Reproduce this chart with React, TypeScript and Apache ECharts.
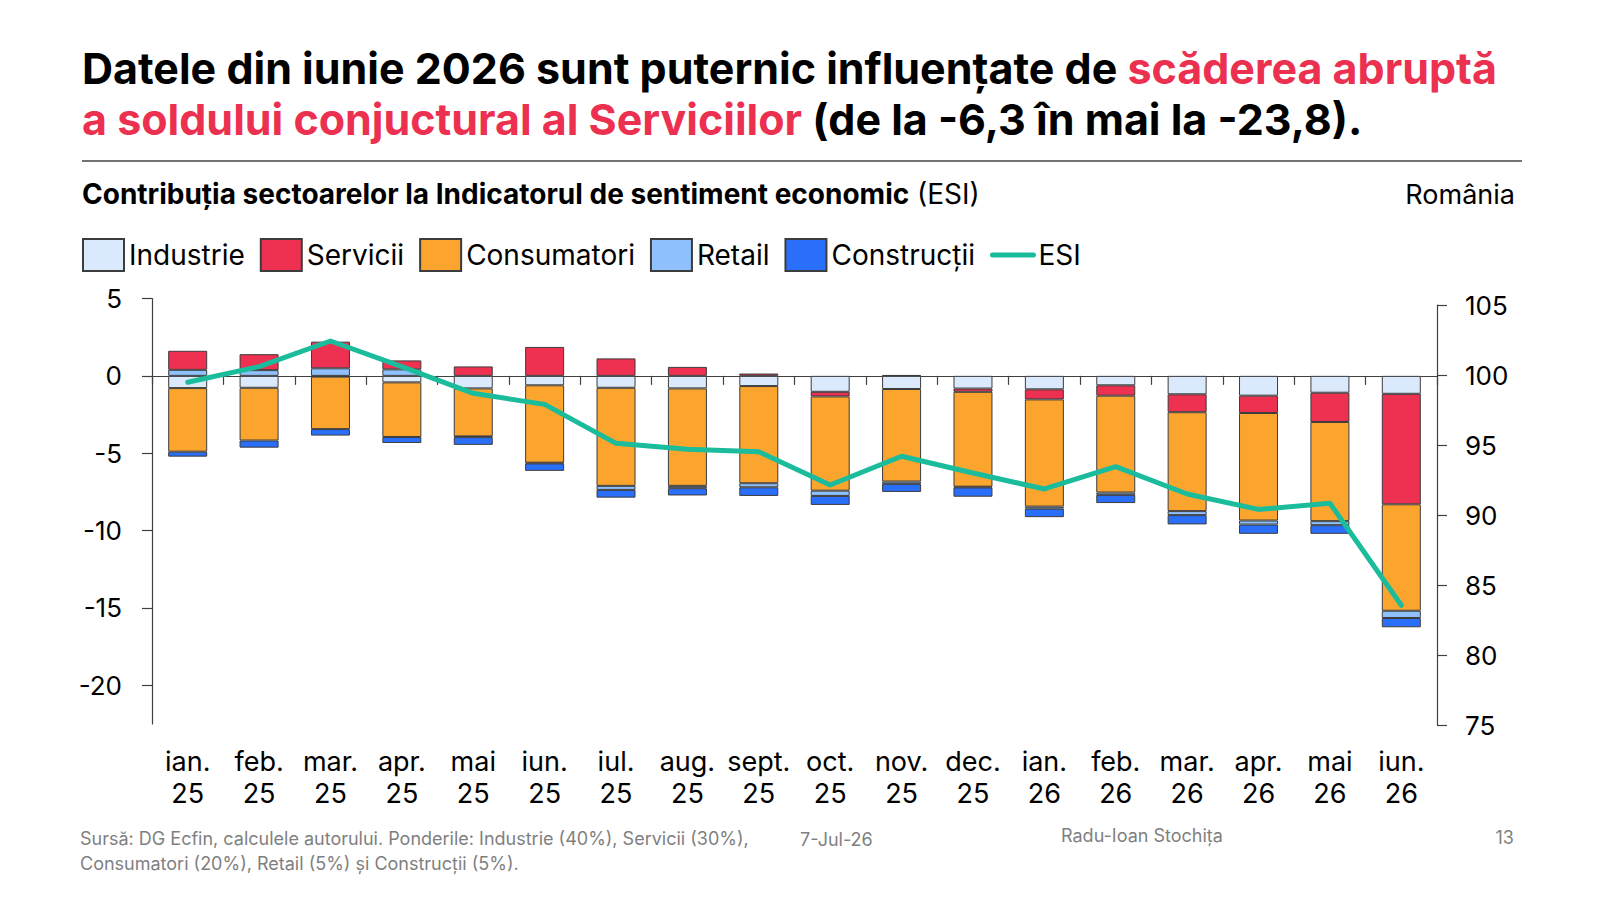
import * as echarts from "echarts";
import { useEffect, useRef } from "react";

const FONT = "Inter";

const months = [
  "ian.\n25", "feb.\n25", "mar.\n25", "apr.\n25", "mai\n25", "iun.\n25",
  "iul.\n25", "aug.\n25", "sept.\n25", "oct.\n25", "nov.\n25", "dec.\n25",
  "ian.\n26", "feb.\n26", "mar.\n26", "apr.\n26", "mai\n26", "iun.\n26",
];

// contributii (puncte)
const industrie = [-0.79, -0.77, -0.05, -0.42, -0.81, -0.61, -0.77, -0.81, -0.66, -1.03, -0.85, -0.82, -0.87, -0.61, -1.19, -1.28, -1.09, -1.16];
const servicii = [1.23, 1.03, 1.72, 0.58, 0.61, 1.87, 1.13, 0.58, 0.15, -0.3, 0.05, -0.21, -0.65, -0.67, -1.16, -1.12, -1.89, -7.14];
const consumatori = [-4.11, -3.41, -3.39, -3.53, -3.1, -5.0, -6.34, -6.3, -6.28, -6.09, -5.98, -6.13, -6.93, -6.26, -6.39, -6.95, -6.41, -6.88];
const retail = [0.39, 0.37, 0.49, 0.42, -0.05, -0.05, -0.26, -0.15, -0.26, -0.34, -0.15, -0.05, -0.13, -0.15, -0.26, -0.26, -0.26, -0.47];
const constructii = [-0.32, -0.46, -0.42, -0.39, -0.5, -0.48, -0.5, -0.47, -0.56, -0.58, -0.52, -0.6, -0.55, -0.53, -0.6, -0.6, -0.56, -0.6];
const esi = [99.48, 100.6, 102.43, 100.6, 98.69, 97.9, 95.12, 94.7, 94.52, 92.14, 94.2, 93.0, 91.86, 93.45, 91.5, 90.4, 90.84, 83.55];

const leftTicks = [5, 0, -5, -10, -15, -20];
const rightTicks = [105, 100, 95, 90, 85, 80, 75];

const RED = "#EC3050";
const BORDER = "#3c3c3c";
const TEAL = "#1ABC9C";

const barSeries = (name: string, data: (number | string)[], color: string) => ({
  name,
  type: "bar",
  stack: "total",
  xAxisIndex: 0,
  yAxisIndex: 0,
  barWidth: 39,
  data,
  itemStyle: { color, borderColor: BORDER, borderWidth: 1 },
});

export default function App() {
  const chartRef = useRef<HTMLDivElement>(null);

  useEffect(() => {
    if (!chartRef.current) return;
    const chart = echarts.init(chartRef.current, undefined, { renderer: "svg" });

    const axisText = { fontFamily: FONT, fontSize: 26, color: "#000" };
    const titleRich = {
      k: { fill: "#000", fontSize: 43, fontWeight: "bold", fontFamily: FONT },
      r: { fill: RED, fontSize: 43, fontWeight: "bold", fontFamily: FONT },
    };

    chart.setOption({
      animation: false,
      backgroundColor: "#fff",
      textStyle: { fontFamily: FONT, color: "#000" },
      graphic: [
        {
          type: "text",
          x: 82,
          y: 68,
          style: {
            text: "{k|Datele din iunie 2026 sunt puternic influențate de }{r|scăderea abruptă}",
            verticalAlign: "middle",
            rich: titleRich,
          },
        },
        {
          type: "text",
          x: 82,
          y: 119,
          style: {
            text: "{r|a soldului conjuctural al Serviciilor}{k| (de la -6,3 în mai la -23,8).}",
            verticalAlign: "middle",
            rich: titleRich,
          },
        },
        {
          type: "line",
          shape: { x1: 82, y1: 161, x2: 1522, y2: 161 },
          style: { stroke: "#444", lineWidth: 1.5 },
        },
        {
          type: "text",
          x: 82,
          y: 194,
          style: {
            text: "{b|Contribuția sectoarelor la Indicatorul de sentiment economic}{n| (ESI)}",
            verticalAlign: "middle",
            rich: {
              b: { fill: "#000", fontSize: 28, fontWeight: "bold", fontFamily: FONT },
              n: { fill: "#000", fontSize: 28, fontFamily: FONT },
            },
          },
        },
        {
          type: "text",
          x: 1515,
          y: 194,
          style: { text: "România", fill: "#000", fontSize: 27, fontFamily: FONT, align: "right", verticalAlign: "middle" },
        },
        {
          type: "text",
          x: 80,
          y: 851,
          style: {
            text: "Sursă: DG Ecfin, calculele autorului. Ponderile: Industrie (40%), Servicii (30%),\nConsumatori (20%), Retail (5%) și Construcții (5%).",
            fill: "#7f7f7f",
            fontSize: 18,
            lineHeight: 25,
            fontFamily: FONT,
            verticalAlign: "middle",
          },
        },
        {
          type: "text",
          x: 800,
          y: 839,
          style: { text: "7-Jul-26", fill: "#7f7f7f", fontSize: 18, fontFamily: FONT, verticalAlign: "middle" },
        },
        {
          type: "text",
          x: 1061,
          y: 835,
          style: { text: "Radu-Ioan Stochița", fill: "#7f7f7f", fontSize: 18, fontFamily: FONT, verticalAlign: "middle" },
        },
        {
          type: "text",
          x: 1514,
          y: 837,
          style: { text: "13", fill: "#7f7f7f", fontSize: 18, fontFamily: FONT, align: "right", verticalAlign: "middle" },
        },
      ],
      legend: {
        left: 82,
        top: 238,
        padding: 0,
        itemWidth: 41,
        itemHeight: 32,
        itemGap: 15,
        data: [
          { name: "Industrie", icon: "rect" },
          { name: "Servicii", icon: "rect" },
          { name: "Consumatori", icon: "rect" },
          { name: "Retail", icon: "rect" },
          { name: "Construcții", icon: "rect" },
          { name: "ESI", itemStyle: { opacity: 0 }, lineStyle: { width: 5, color: TEAL, cap: "round" } },
        ],
        textStyle: { fontFamily: FONT, fontSize: 28, color: "#000" },
      },
      grid: [
        { left: 152, right: 163, top: 298.5, bottom: 176 },
        { left: 152, right: 163, top: 305, bottom: 175 },
      ],
      xAxis: [
        {
          type: "category",
          gridIndex: 0,
          data: months,
          axisLine: { onZero: true, onZeroAxisIndex: 0, lineStyle: { color: "#404040", width: 1.2 } },
          axisTick: { show: true, length: 9, lineStyle: { color: "#404040", width: 1.2 } },
          axisLabel: { show: false },
        },
        {
          type: "category",
          gridIndex: 0,
          position: "bottom",
          data: months,
          axisLine: { show: false, onZero: false },
          axisTick: { show: false },
          axisLabel: { ...axisText, fontSize: 27, interval: 0, lineHeight: 32, margin: 21 },
        },
        {
          type: "category",
          gridIndex: 1,
          data: months,
          show: false,
        },
      ],
      yAxis: [
        {
          type: "value",
          gridIndex: 0,
          position: "left",
          min: -22.5,
          max: 5,
          axisLine: { show: true, lineStyle: { color: "#404040", width: 1.2 } },
          axisTick: { show: true, length: 10, customValues: leftTicks, lineStyle: { color: "#404040", width: 1.2 } },
          axisLabel: { ...axisText, margin: 30, customValues: leftTicks },
          splitLine: { show: false },
        },
        {
          type: "value",
          gridIndex: 1,
          position: "right",
          min: 75,
          max: 105,
          axisLine: { show: true, lineStyle: { color: "#404040", width: 1.2 } },
          axisTick: { show: true, length: 10, customValues: rightTicks, lineStyle: { color: "#404040", width: 1.2 } },
          axisLabel: { ...axisText, margin: 28, customValues: rightTicks },
          splitLine: { show: false },
        },
      ],
      series: [
        barSeries("Industrie", industrie, "#DAE9FC"),
        barSeries("Retail", retail.map((v) => (v > 0 ? v : "-")), "#8EC1FD"),
        barSeries("Servicii", servicii, "#EE3150"),
        barSeries("Consumatori", consumatori, "#FBA52E"),
        barSeries("Retail", retail.map((v) => (v < 0 ? v : "-")), "#8EC1FD"),
        barSeries("Construcții", constructii, "#2A6FFA"),
        {
          name: "ESI",
          type: "line",
          xAxisIndex: 2,
          yAxisIndex: 1,
          data: esi,
          symbol: "none",
          z: 10,
          itemStyle: { color: TEAL },
          lineStyle: { color: TEAL, width: 5, cap: "round", join: "round" },
        },
      ],
    });

    return () => chart.dispose();
  }, []);

  return (
    <div
      ref={chartRef}
      style={{ position: "absolute", left: 0, top: 0, width: 1600, height: 900 }}
    />
  );
}
